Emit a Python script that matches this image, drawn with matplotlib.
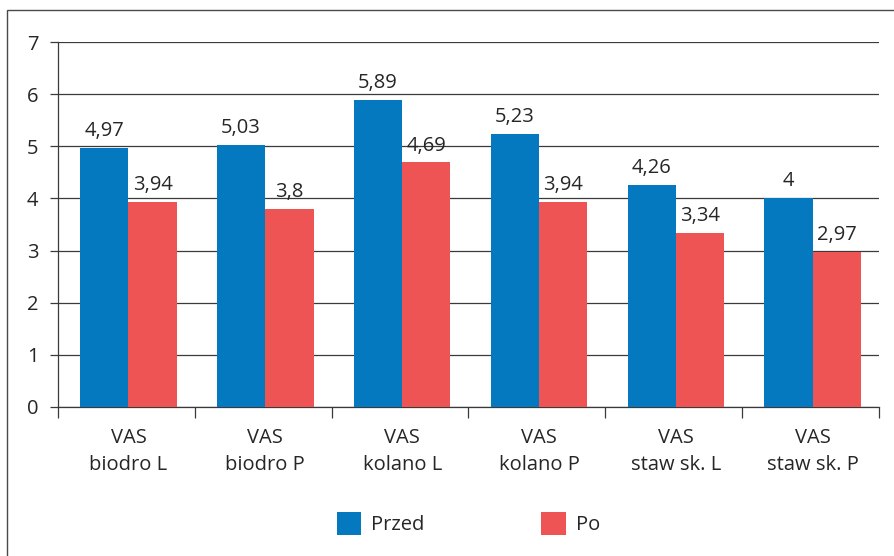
import numpy as np
import matplotlib.pyplot as plt
from matplotlib.patches import Rectangle

plt.rcParams['font.family'] = ['Open Sans', 'DejaVu Sans']

categories = ['VAS\nbiodro L', 'VAS\nbiodro P', 'VAS\nkolano L',
              'VAS\nkolano P', 'VAS\nstaw sk. L', 'VAS\nstaw sk. P']
przed = [4.97, 5.03, 5.89, 5.23, 4.26, 4.00]
po = [3.94, 3.80, 4.69, 3.94, 3.34, 2.97]
przed_labels = ['4,97', '5,03', '5,89', '5,23', '4,26', '4']
po_labels = ['3,94', '3,8', '4,69', '3,94', '3,34', '2,97']

blue = '#0579c0'
red = '#ef5455'
text_col = '#262626'
fs = 14.5

fig = plt.figure(figsize=(8.95, 5.56), dpi=100)
ax = fig.add_axes([58 / 895, 1 - 407 / 556, (879 - 58) / 895, (407 - 42) / 556])

x = np.arange(len(categories))
w = 0.353
b1 = ax.bar(x - w / 2 + 0.015, przed, w, color=blue, label='Przed', zorder=3)
b2 = ax.bar(x + w / 2 + 0.015, po, w, color=red, label='Po', zorder=3)

for bars, labels in ((b1, przed_labels), (b2, po_labels)):
    for bar, lab in zip(bars, labels):
        ax.annotate(lab, (bar.get_x() + bar.get_width() / 2, bar.get_height()),
                    xytext=(0, 5), textcoords='offset points',
                    ha='center', va='bottom', fontsize=fs, color=text_col)

ax.set_xlim(-0.5, len(categories) - 0.5)
ax.set_ylim(0, 7)
ax.set_yticks(range(0, 8))
ax.yaxis.grid(True, color='#3a3a3a', linewidth=0.9, zorder=0)
ax.set_axisbelow(True)

# category labels centred, tick marks on group boundaries
ax.set_xticks(x + 0.015)
ax.set_xticklabels(categories, fontsize=fs, color=text_col, linespacing=1.45)
ax.tick_params(axis='x', length=0, pad=15)
ax.set_xticks(np.arange(-0.5, len(categories)), minor=True)
ax.tick_params(axis='x', which='minor', length=8, width=0.9, color='#3a3a3a')
ax.tick_params(axis='y', length=6, width=0.9, color='#3a3a3a',
               labelsize=fs, labelcolor=text_col, pad=8)

for side in ('top', 'right'):
    ax.spines[side].set_visible(False)
for side in ('left', 'bottom'):
    ax.spines[side].set_color('#3a3a3a')
    ax.spines[side].set_linewidth(0.9)

ax.legend(loc='center', bbox_to_anchor=(0.5, -0.32), ncol=2,
          frameon=False, fontsize=fs, handlelength=1.2, handleheight=1.4,
          handletextpad=0.5, columnspacing=5.8, labelcolor=text_col)

fig.patches.append(Rectangle((7 / 895, -0.05), 1.0, 1 - 10 / 556 + 0.05,
                             transform=fig.transFigure, fill=False,
                             edgecolor='#4a4a4a', linewidth=1.0))

fig.savefig('out.png', dpi=100)
